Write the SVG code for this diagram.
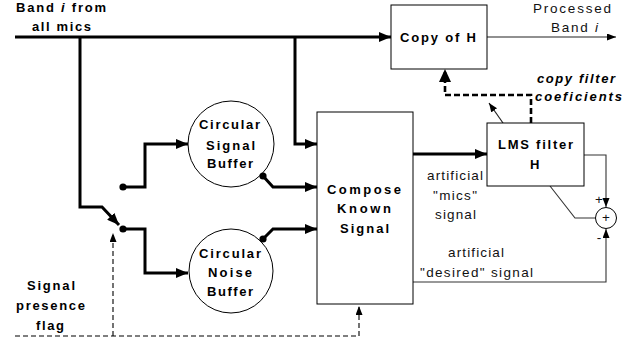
<svg xmlns="http://www.w3.org/2000/svg" width="637" height="343" viewBox="0 0 637 343">
  <style>
    .lbl { font-family: "Liberation Sans", Arial, sans-serif; font-size: 13px; font-weight: bold; fill: #000; }
    .txt { font-family: "Liberation Sans", Arial, sans-serif; font-size: 13.5px; fill: #111; }
    .box { fill: #fff; stroke: #000; stroke-width: 1; }
    .thick { fill: none; stroke: #000; stroke-width: 3; }
    .thin { fill: none; stroke: #222; stroke-width: 1.2; }
    .grey { fill: none; stroke: #333; stroke-width: 1.1; }
    .dash { fill: none; stroke: #000; stroke-width: 1.1; stroke-dasharray: 5 3; }
    .dashbold { fill: none; stroke: #000; stroke-width: 2.6; stroke-dasharray: 6 3; }
  </style>
  <defs>
    <marker id="ahBig" markerUnits="userSpaceOnUse" markerWidth="13" markerHeight="10" refX="12" refY="5" orient="auto">
      <path d="M0,0 L12,5 L0,10 z" fill="#000"/>
    </marker>
    <marker id="ahSmall" markerUnits="userSpaceOnUse" markerWidth="10" markerHeight="8" refX="9" refY="3.5" orient="auto">
      <path d="M0,0 L9,3.5 L0,7 z" fill="#000"/>
    </marker>
  </defs>

  <!-- signal paths -->
  <g id="connectors">
    <path class="thick" d="M15,37 H391" marker-end="url(#ahBig)"/>
    <path class="thick" d="M80,37 V207 H102 L119,225" marker-end="url(#ahBig)"/>
    <path class="thick" d="M295,37 V144 H317" marker-end="url(#ahBig)"/>
    <path class="thick" d="M123,187 H145 V144 H188" marker-end="url(#ahBig)"/>
    <path class="thick" d="M123,229 H145 V273 H188" marker-end="url(#ahBig)"/>
    <path class="thick" d="M263,176 L273,187 H317" marker-end="url(#ahBig)"/>
    <path class="thick" d="M263,239 L273,229 H317" marker-end="url(#ahBig)"/>
    <path class="thick" d="M413,154 H487" marker-end="url(#ahBig)"/>
    <path class="thin" d="M487,37 H616" marker-end="url(#ahSmall)"/>
    <path class="grey" d="M584,155 H606 V207" marker-end="url(#ahSmall)"/>
    <path class="grey" d="M413,282 H606 V229" marker-end="url(#ahSmall)"/>
    <path class="grey" d="M550,186 L575,218 H595.5"/>
    <path class="dashbold" d="M531,123 V95 H445 V72"/>
    <path d="M439,82 L445,69 L451,82 z" fill="#000"/>
    <path class="thin" d="M503,123 L489,103" marker-end="url(#ahSmall)"/>
    <path class="dash" d="M15,336 H359 V306" marker-end="url(#ahSmall)"/>
    <path class="dash" d="M113,336 V233" marker-end="url(#ahSmall)"/>
    <circle cx="123" cy="187" r="3.6" fill="#000"/>
    <circle cx="123" cy="229" r="3.6" fill="#000"/>
  </g>

  <g id="input-label">
    <text class="lbl" x="16" y="12" textLength="90" lengthAdjust="spacing">Band <tspan font-style="italic">i</tspan> from</text>
    <text class="lbl" x="32" y="31" textLength="59" lengthAdjust="spacing">all mics</text>
  </g>

  <g id="copy-of-h">
    <rect class="box" x="391" y="5" width="96" height="64"/>
    <text class="lbl" x="400" y="42" textLength="76" lengthAdjust="spacing">Copy of H</text>
  </g>

  <g id="output-label">
    <text class="txt" x="533" y="12.5" textLength="78" lengthAdjust="spacing">Processed</text>
    <text class="txt" x="551" y="32" textLength="47" lengthAdjust="spacing">Band <tspan font-style="italic">i</tspan></text>
  </g>

  <g id="copy-coefficients-label">
    <text class="lbl" font-style="italic" x="537" y="83" textLength="78" lengthAdjust="spacing">copy filter</text>
    <text class="lbl" font-style="italic" x="535" y="101" textLength="87" lengthAdjust="spacing">coeficients</text>
  </g>

  <g id="signal-buffer">
    <circle class="box" cx="231" cy="144" r="43"/>
    <text class="lbl" x="199" y="129" textLength="61" lengthAdjust="spacing">Circular</text>
    <text class="lbl" x="206" y="150" textLength="49" lengthAdjust="spacing">Signal</text>
    <text class="lbl" x="207" y="168" textLength="46" lengthAdjust="spacing">Buffer</text>
    <circle cx="263" cy="176" r="3.6" fill="#000"/>
  </g>

  <g id="noise-buffer">
    <circle class="box" cx="231" cy="271" r="42"/>
    <text class="lbl" x="199" y="258" textLength="62" lengthAdjust="spacing">Circular</text>
    <text class="lbl" x="208" y="277" textLength="44" lengthAdjust="spacing">Noise</text>
    <text class="lbl" x="207" y="296" textLength="46" lengthAdjust="spacing">Buffer</text>
    <circle cx="263" cy="239" r="3.6" fill="#000"/>
  </g>

  <g id="compose-known-signal">
    <rect class="box" x="317" y="112" width="96" height="192"/>
    <text class="lbl" x="327" y="194" textLength="74" lengthAdjust="spacing">Compose</text>
    <text class="lbl" x="337" y="213" textLength="54" lengthAdjust="spacing">Known</text>
    <text class="lbl" x="340" y="233" textLength="49" lengthAdjust="spacing">Signal</text>
  </g>

  <g id="mics-signal-label">
    <text class="txt" x="427" y="180" textLength="56" lengthAdjust="spacing">artificial</text>
    <text class="txt" x="433" y="200" textLength="44" lengthAdjust="spacing">"mics"</text>
    <text class="txt" x="435" y="219" textLength="41" lengthAdjust="spacing">signal</text>
  </g>

  <g id="desired-signal-label">
    <text class="txt" x="448" y="257" textLength="56" lengthAdjust="spacing">artificial</text>
    <text class="txt" x="420" y="277" textLength="113" lengthAdjust="spacing">"desired" signal</text>
  </g>

  <g id="lms-filter">
    <rect class="box" x="487" y="123" width="97" height="63"/>
    <text class="lbl" x="498" y="149" textLength="75" lengthAdjust="spacing">LMS filter</text>
    <text class="lbl" x="530" y="169">H</text>
  </g>

  <g id="summing-junction">
    <circle cx="606" cy="218" r="10.5" fill="#fff" stroke="#000" stroke-width="1"/>
    <text class="txt" x="606" y="222" font-size="10" text-anchor="middle">+</text>
    <text class="txt" x="599" y="204" font-size="10" text-anchor="middle">+</text>
    <text class="txt" x="599" y="242" font-size="10" text-anchor="middle">-</text>
  </g>

  <g id="flag-label">
    <text class="lbl" x="27" y="290" textLength="48" lengthAdjust="spacing">Signal</text>
    <text class="lbl" x="16" y="310" textLength="69" lengthAdjust="spacing">presence</text>
    <text class="lbl" x="36" y="330" textLength="28" lengthAdjust="spacing">flag</text>
  </g>
</svg>
